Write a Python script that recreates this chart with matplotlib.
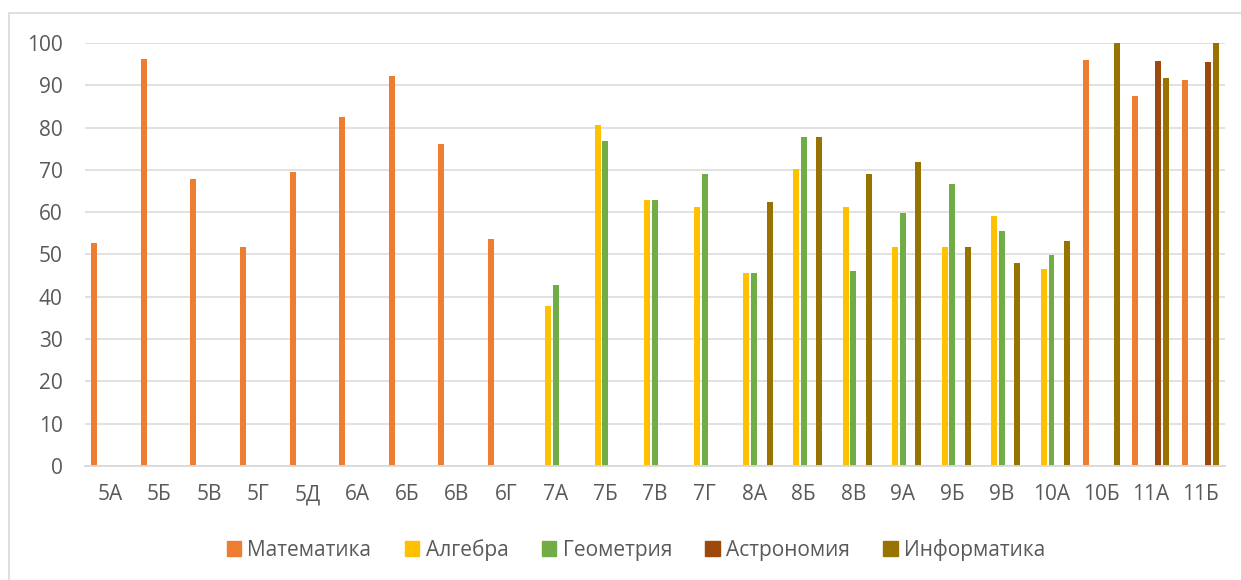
import matplotlib

matplotlib.use("Agg")
import matplotlib.pyplot as plt
import numpy as np
from matplotlib.patches import Patch, Rectangle

plt.rcParams["font.family"] = ["Open Sans", "DejaVu Sans"]

TEXT = "#595959"
GRID = "#D9D9D9"

classes = ["5А", "5Б", "5В", "5Г", "5Д", "6А", "6Б", "6В", "6Г", "7А", "7Б", "7В",
           "7Г", "8А", "8Б", "8В", "9А", "9Б", "9В", "10А", "10Б", "11А", "11Б"]
nan = np.nan
math_vals = [52.8, 96.1, 67.9, 51.8, 69.4, 82.5, 92.3, 76.1, 53.7, nan, nan, nan,
             nan, nan, nan, nan, nan, nan, nan, nan, 95.9, 87.5, 91.3]
algebra = [nan, nan, nan, nan, nan, nan, nan, nan, nan, 37.9, 80.7, 62.8,
           61.3, 45.6, 70.3, 61.3, 51.8, 51.7, 59.2, 46.5, nan, nan, nan]
geometry = [nan, nan, nan, nan, nan, nan, nan, nan, nan, 42.8, 76.8, 62.8,
            69.1, 45.6, 77.7, 46.0, 59.8, 66.6, 55.5, 49.8, nan, nan, nan]
astronomy = [nan, nan, nan, nan, nan, nan, nan, nan, nan, nan, nan, nan,
             nan, nan, nan, nan, nan, nan, nan, nan, nan, 95.7, 95.6]
informatics = [nan, nan, nan, nan, nan, nan, nan, nan, nan, nan, nan, nan,
               nan, 62.4, 77.7, 69.1, 71.9, 51.7, 48.0, 53.2, 100, 91.7, 100]

series = [
    ("Математика", math_vals, "#ED7D31"),
    ("Алгебра", algebra, "#FFC000"),
    ("Геометрия", geometry, "#70AD47"),
    ("Астрономия", astronomy, "#9E480E"),
    ("Информатика", informatics, "#997300"),
]

fig = plt.figure(figsize=(12.41, 5.8), dpi=100)
fig.patches.append(Rectangle((8.5 / 1241, -0.1), 1.2, 1.1 - 13.5 / 580,
                             transform=fig.transFigure, fill=False,
                             ec=GRID, lw=1.2))
ax = fig.add_axes([85 / 1241, 1 - 466 / 580, 1140 / 1241, 423 / 580])

x = np.arange(len(classes))
slot = 0.156
width = 0.12
for i, (name, vals, col) in enumerate(series):
    v = np.array(vals, dtype=float)
    m = ~np.isnan(v)
    ax.bar(x[m] + (i - 2) * slot, v[m], width=width, color=col, lw=0)

ax.set_xlim(-0.5, len(classes) - 0.5)
ax.set_ylim(0, 100)
ax.set_yticks(np.arange(0, 101, 10))
ax.set_xticks(x)
ax.set_xticklabels(classes)
ax.grid(axis="y", color=GRID, lw=1.1)
ax.set_axisbelow(True)
for s in ("left", "right", "top"):
    ax.spines[s].set_visible(False)
ax.spines["bottom"].set_color(GRID)
ax.spines["bottom"].set_linewidth(1.3)
ax.tick_params(axis="y", length=0, pad=16, labelsize=15, labelcolor=TEXT)
ax.tick_params(axis="x", length=0, pad=13, labelsize=15, labelcolor=TEXT)

handles = [Patch(color=col, label=name) for name, _, col in series]
fig.legend(handles=handles, loc="center", bbox_to_anchor=(636 / 1241, 1 - 550 / 580),
           ncol=5, frameon=False, fontsize=15, labelcolor=TEXT,
           handlelength=0.7, handleheight=0.7, handletextpad=0.3,
           columnspacing=1.6)

fig.savefig("out.png", dpi=100, facecolor="white")
